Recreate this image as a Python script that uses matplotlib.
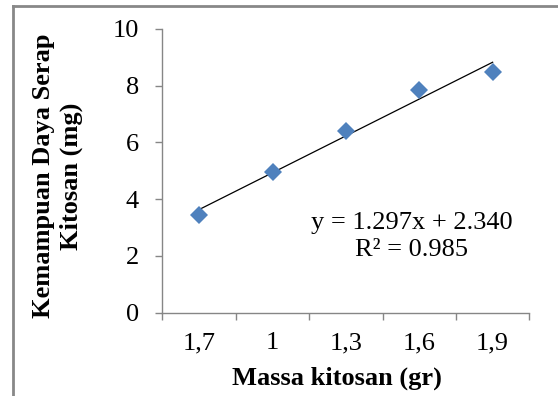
import numpy as np
import matplotlib.pyplot as plt
from matplotlib.lines import Line2D

massa = ["1,7", "1", "1,3", "1,6", "1,9"]
daya_serap = [3.45, 4.96, 6.41, 7.84, 8.50]
y_ticks = [0, 2, 4, 6, 8, 10]
eq_text = "y = 1.297x + 2.340\nR² = 0.985"

plt.rcParams["font.family"] = ["Liberation Serif", "DejaVu Serif"]

fig = plt.figure(figsize=(5.58, 3.96), dpi=100)
ax = fig.add_axes([0.2912, 0.2104, 0.6574, 0.7164])

x = np.arange(1, len(massa) + 1)
ax.plot(x, daya_serap, "D", color="#4F81BD", markersize=9.5, markeredgewidth=0, zorder=3)

# linear trendline
k, b = np.polyfit(x, daya_serap, 1)
ax.plot(x, k * x + b, color="black", linewidth=0.9, zorder=2)

ax.set_xlim(0.5, len(massa) + 0.5)
ax.set_ylim(0, 10)
ax.set_yticks(y_ticks)
ax.set_xticks(x)
ax.set_xticklabels(massa)
ax.set_xticks(np.arange(0.5, len(massa) + 1, 1), minor=True)

for s in ["top", "right"]:
    ax.spines[s].set_visible(False)
for s in ["left", "bottom"]:
    ax.spines[s].set_color("#868686")
    ax.spines[s].set_linewidth(1.0)

ax.tick_params(axis="y", direction="out", length=5, width=1, color="#868686",
               labelsize=19, pad=12)
ax.tick_params(axis="x", which="major", length=0, labelsize=19, pad=14)
ax.tick_params(axis="x", which="minor", direction="out", length=5, width=1,
               color="#868686")

ax.text(0.68, 0.267, eq_text, transform=ax.transAxes, ha="center", va="center",
        fontsize=19, linespacing=1.3)

fig.text(336.7 / 558, 1 - 378 / 396, "Massa kitosan (gr)", ha="center", va="center",
         fontsize=19, fontweight="bold")
fig.text(57.5 / 558, 1 - 176 / 396, "Kemampuan Daya Serap\nKitosan (mg)", ha="center",
         va="center", rotation=90, fontsize=19, fontweight="bold", linespacing=1.25)

# outer frame (cut off at right and bottom)
fig.add_artist(Line2D([13 / 558, 13 / 558], [0, 1 - 6 / 396], color="#888888", linewidth=2))
fig.add_artist(Line2D([13 / 558, 1], [1 - 6 / 396, 1 - 6 / 396], color="#888888", linewidth=2))

fig.savefig("out.png", dpi=100)
